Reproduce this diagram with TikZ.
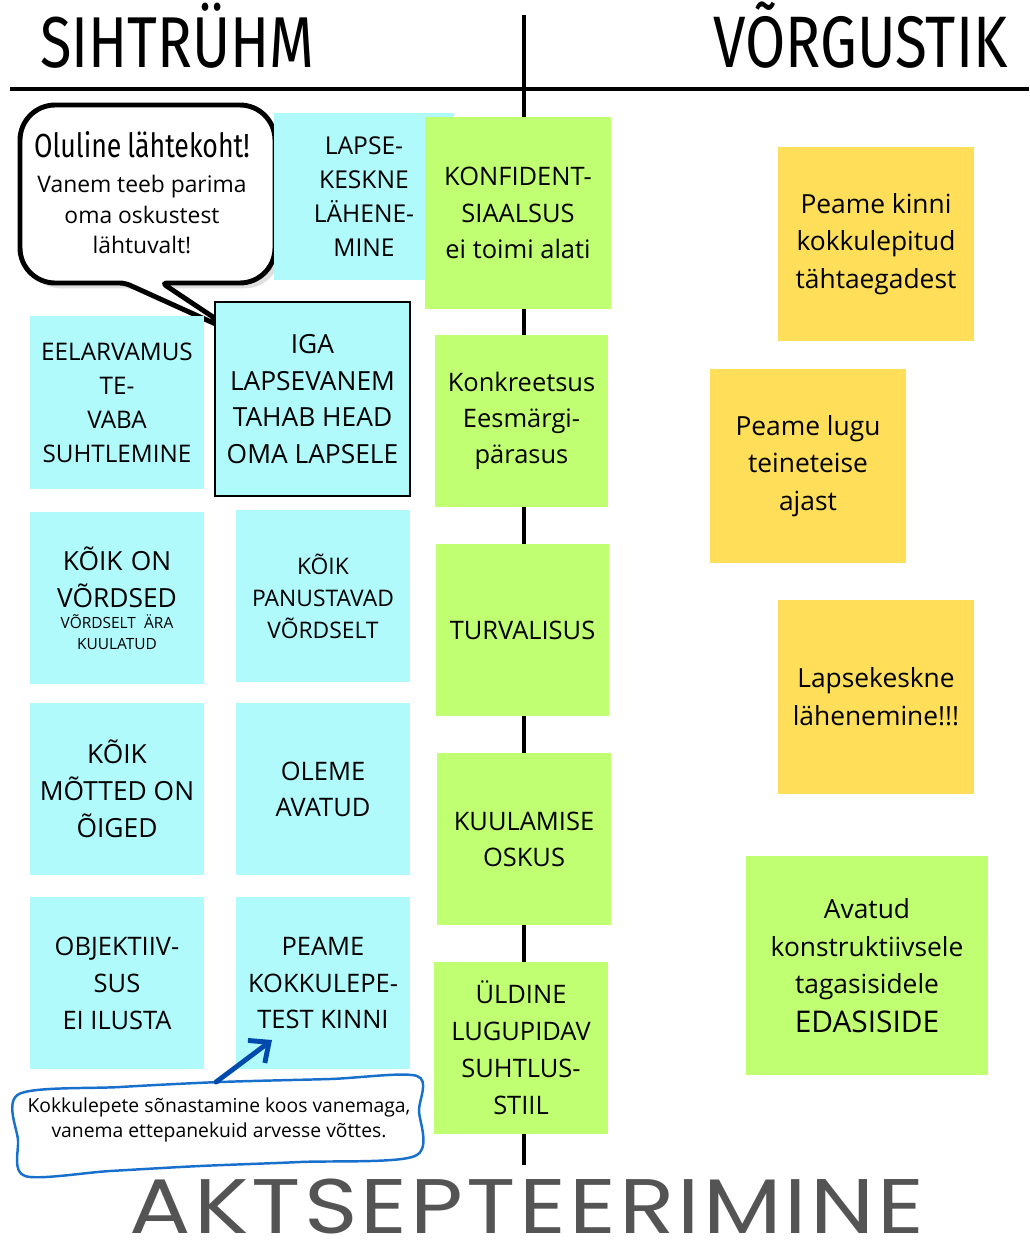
\documentclass[tikz,border=0pt]{standalone}
\usepackage{fontspec}
\setmainfont{Open Sans}
\newfontfamily\headfont[FakeStretch=0.8]{Fira Sans}
\newfontfamily\bigfont[FakeStretch=1.18,LetterSpace=4]{Poppins}
\usetikzlibrary{arrows.meta,shadows}

\definecolor{cyanbox}{RGB}{176,250,252}
\definecolor{limebox}{RGB}{193,255,114}
\definecolor{yellowbox}{RGB}{255,222,89}
\definecolor{darkgrey}{RGB}{84,84,84}
\definecolor{noteblue}{RGB}{24,112,205}
\definecolor{arrowblue}{RGB}{0,74,173}

\begin{document}
\begin{tikzpicture}[x=0.02cm,y=-0.02cm,
  card/.style={inner sep=0pt, align=center, font=\fontsize{14}{19.5}\selectfont},
  cyancard/.style={card, fill=cyanbox},
  limecard/.style={card, fill=limebox},
  yellowcard/.style={card, fill=yellowbox, font=\fontsize{15}{21.5}\selectfont},
  sq/.style={minimum width=3.48cm, minimum height=3.45cm}]
\useasboundingbox (0,0) rectangle (1029,1243);

\coordinate (vtop) at (524,15);
\coordinate (vbot) at (524,1165);
\coordinate (hleft) at (10,89);
\coordinate (hright) at (1029,89);

\draw[line width=2.8pt] (vtop)--(vbot);
\draw[line width=2.3pt] (hleft)--(hright);

\node[anchor=base west, inner sep=0pt, font=\headfont\fontsize{41}{42}\selectfont] (sihtryhm) at (40,68) {SIHTRÜHM};
\node[anchor=base east, inner sep=0pt, font=\headfont\fontsize{41.5}{42}\selectfont] (vorgustik) at (1008,68) {VÕRGUSTIK};

% speech bubble
\draw[line width=2.8pt, fill=white, drop shadow={opacity=0.25, shadow xshift=3pt, shadow yshift=-3pt}]
  (20,160) [rounded corners=20pt] -- (20,105) -- (275,105) -- (275,283) [rounded corners=3pt] -- (162,283) -- (240,335) -- (125,283) [rounded corners=20pt] -- (20,283) -- (20,160);
\node[align=center, text width=4.9cm, inner sep=0pt] (bubbletext) at (142,193)
  {{\headfont\fontsize{19}{21}\selectfont Oluline lähtekoht!\par}\vspace{2pt}
   {\fontsize{13}{17.6}\selectfont Vanem teeb parima\\oma oskustest\\lähtuvalt!\par}};

% left columns
\node[cyancard, minimum width=3.6cm, minimum height=3.34cm, font=\fontsize{14}{19.3}\selectfont] (lapse) at (364,196.5) {LAPSE-\\KESKNE\\LÄHENE-\\MINE};
\node[limecard, minimum width=3.72cm, minimum height=3.84cm, font=\fontsize{14.5}{20.7}\selectfont] (konf) at (518,213) {KONFIDENT-\\SIAALSUS\\ei toimi alati};

\node[cyancard, sq, font=\fontsize{13.8}{19.3}\selectfont] (eelarv) at (117,402.5) {EELARVAMUS\\TE-\\VABA\\SUHTLEMINE};
\node[cyancard, draw=black, line width=1.2pt, minimum width=3.9cm, minimum height=3.88cm, font=\fontsize{15}{20.8}\selectfont] (iga) at (312.5,399) {IGA\\LAPSEVANEM\\TAHAB HEAD\\OMA LAPSELE};
\node[limecard, sq, font=\fontsize{14.5}{20.5}\selectfont] (konkr) at (521.5,421) {Konkreetsus\\Eesmärgi-\\pärasus};

\node[cyancard, sq, text width=3.4cm] (koikon) at (117,598)
  {{\fontsize{15}{21}\selectfont KÕIK ON\\VÕRDSED\par}{\fontsize{8.8}{12}\selectfont VÕRDSELT~ÄRA\\KUULATUD\par}};
\node[cyancard, sq, font=\fontsize{13}{18.2}\selectfont] (panust) at (323,596) {KÕIK\\PANUSTAVAD\\VÕRDSELT};
\node[limecard, sq, font=\fontsize{14.5}{20.5}\selectfont] (turv) at (522.5,630) {TURVALISUS};

\node[cyancard, sq, font=\fontsize{15}{21}\selectfont] (motted) at (117,789) {KÕIK\\MÕTTED ON\\ÕIGED};
\node[cyancard, sq, font=\fontsize{14.5}{20.5}\selectfont] (oleme) at (323,789) {OLEME\\AVATUD};
\node[limecard, sq, font=\fontsize{14.5}{20.5}\selectfont] (kuul) at (524,839) {KUULAMISE\\OSKUS};

\node[cyancard, sq, font=\fontsize{14.5}{21}\selectfont] (objekt) at (117,983) {OBJEKTIIV-\\SUS\\EI ILUSTA};
\node[cyancard, sq, font=\fontsize{14.5}{21}\selectfont] (peame) at (323,983) {PEAME\\KOKKULEPE-\\TEST KINNI};
\node[limecard, sq, font=\fontsize{14.5}{21}\selectfont] (uldine) at (521,1048) {ÜLDINE\\LUGUPIDAV\\SUHTLUS-\\STIIL};

% right side
\node[yellowcard, minimum width=3.92cm, minimum height=3.88cm] (kinni) at (876,244) {Peame kinni\\kokkulepitud\\tähtaegadest};
\node[yellowcard, minimum width=3.92cm, minimum height=3.88cm] (lugu) at (808,466) {Peame lugu\\teineteise\\ajast};
\node[yellowcard, minimum width=3.92cm, minimum height=3.88cm] (lapsek) at (876,697) {Lapsekeskne\\lähenemine!!!};
\node[limecard, minimum width=4.84cm, minimum height=4.38cm, text width=4.6cm] (avatud) at (867,965.5)
  {{\fontsize{15}{21.5}\selectfont Avatud\\konstruktiivsele\\tagasisidele\par}{\fontsize{17}{22}\selectfont EDASISIDE\par}};

% note under the boxes
\draw[noteblue, line width=1.4pt] plot[smooth cycle, tension=0.5] coordinates
  {(19,1094) (120,1087) (220,1082) (330,1079) (417,1076) (419,1110) (415,1156)
   (300,1162) (200,1166) (110,1171) (25,1176) (18,1140)};
\node[font=\fontsize{11}{14.7}\selectfont, align=center] (notetext) at (219,1120)
  {Kokkulepete sõnastamine koos vanemaga,\\vanema ettepanekuid arvesse võttes.};
\coordinate (notetop) at (216,1082);
\coordinate (arrowtip) at (272,1040);
\draw[arrowblue, line width=2.8pt, line cap=round, -{Straight Barb[length=9pt,width=16pt]}] (notetop)--(arrowtip);

\node[anchor=base, inner sep=0pt, text=darkgrey, font=\bigfont\fontsize{44}{45}\selectfont] (aktsept) at (527,1233) {AKTSEPTEERIMINE};

\end{tikzpicture}
\end{document}
